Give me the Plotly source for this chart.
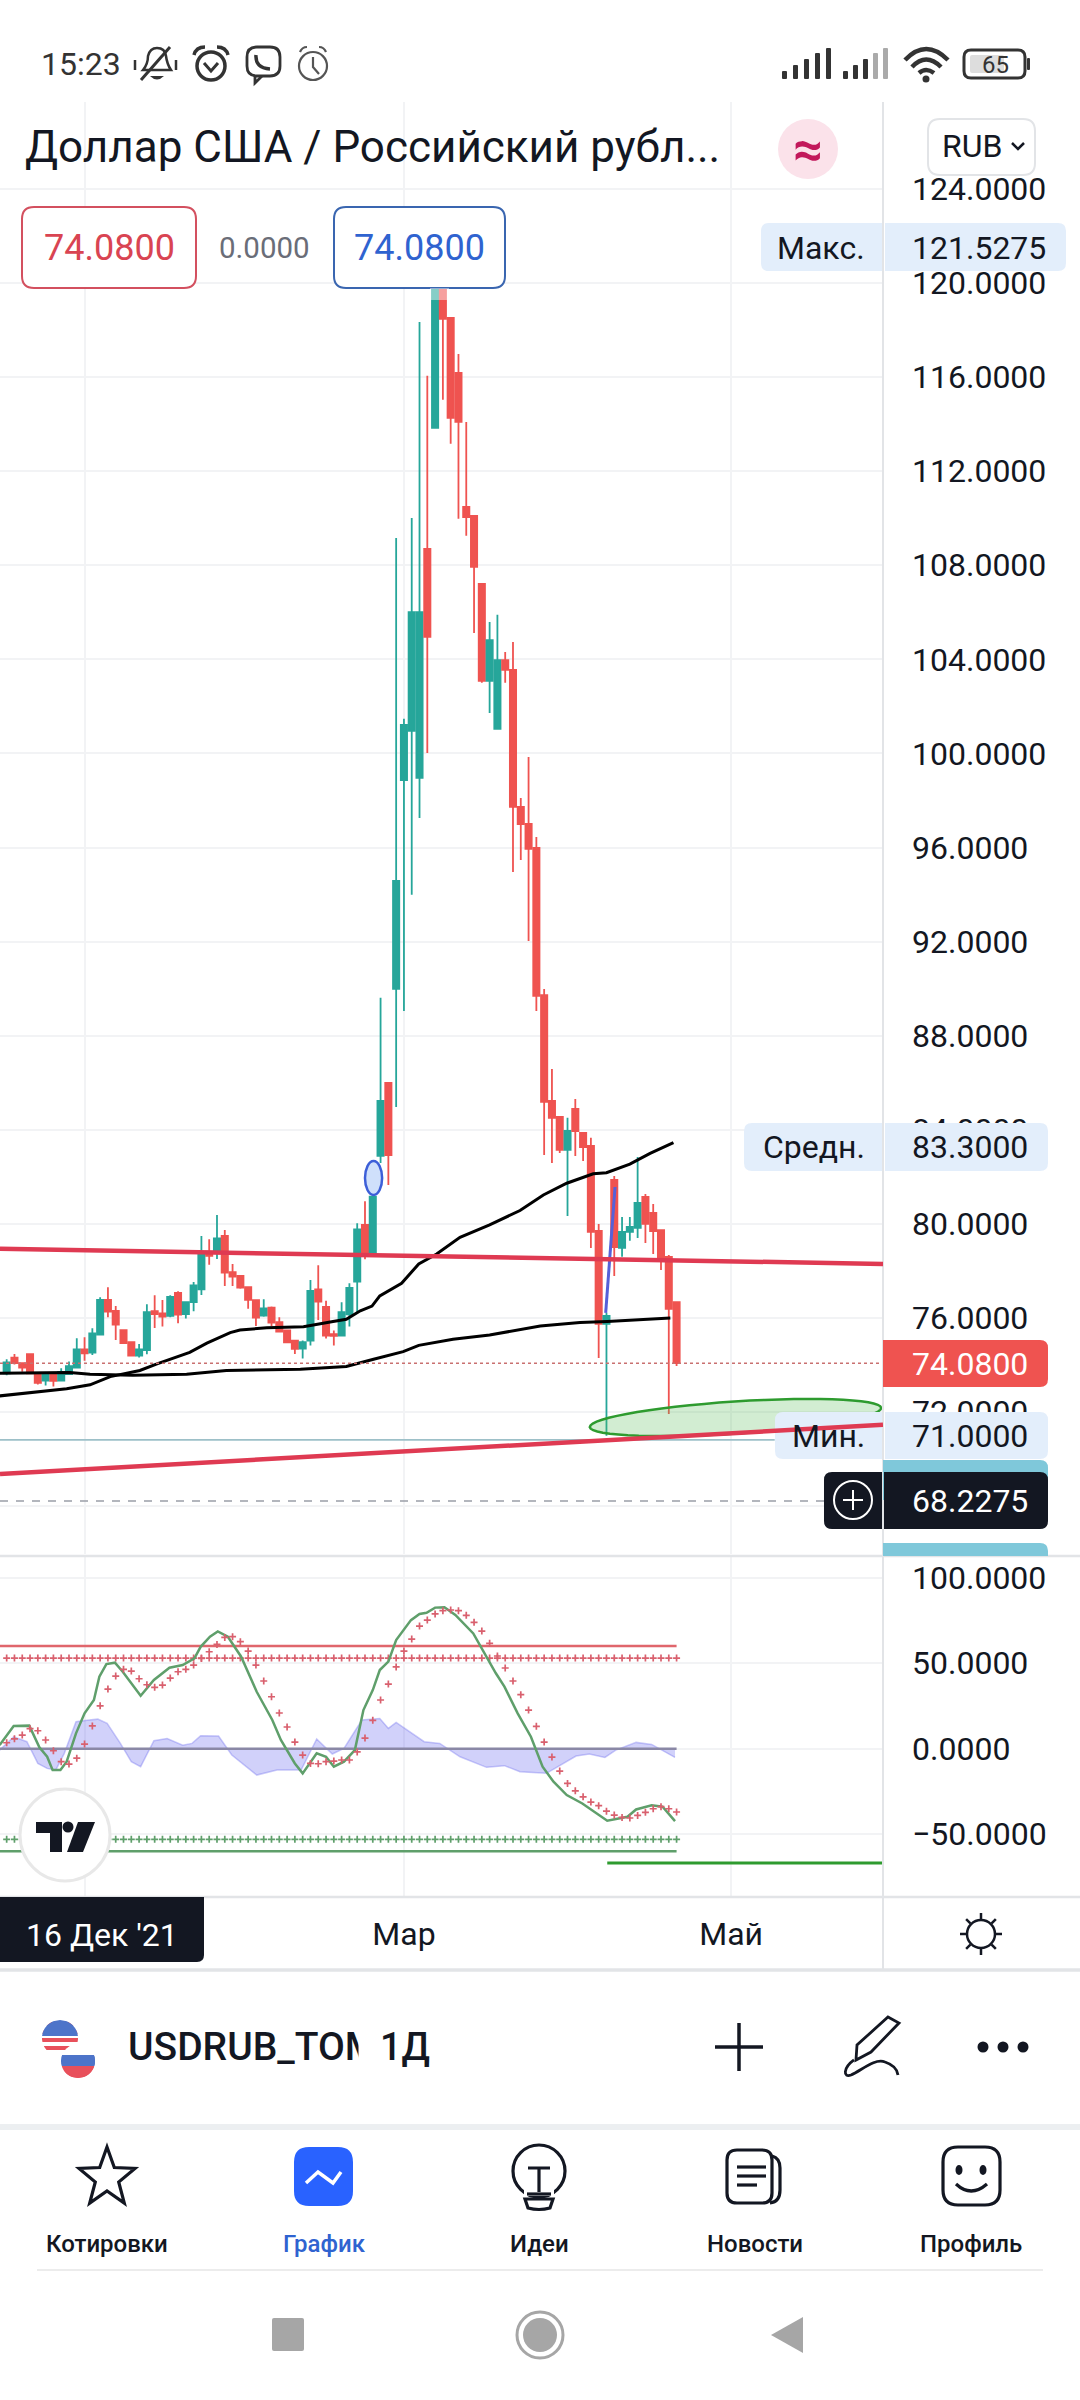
import math
import re
import plotly.graph_objects as go

# ---------- USD/RUB daily candles ----------
OPEN = [73.65, 74.32, 74.08, 74.47, 73.62, 73.34, 73.61, 73.34, 73.62, 73.89, 74.67, 74.53, 75.30, 76.77, 76.30, 75.49,
        74.97, 74.40, 74.64, 76.29, 76.20, 76.09, 77.07, 76.17, 76.68, 77.22, 78.82, 78.89, 79.49, 77.95, 77.79, 77.31,
        76.76, 76.10, 76.44, 75.82, 75.47, 75.04, 74.70, 75.04, 77.22, 76.47, 75.31, 75.25, 76.16, 77.55, 79.96, 78.72,
        82.89, 85.99, 89.99, 98.87, 100.96, 98.96, 108.69, 113.84, 121.19, 118.51, 116.17, 110.48, 110.10, 107.21,
        103.08, 101.04, 103.97, 103.55, 97.73, 97.00, 95.98, 89.73, 85.23, 84.55, 83.15, 84.89, 83.87, 83.32, 79.70,
        75.75, 81.87, 78.98, 79.66, 79.83, 81.15, 80.47, 79.74, 78.60, 76.68]
CLOSE = [74.11, 74.08, 73.89, 73.65, 73.25, 73.61, 73.33, 73.71, 73.96, 74.67, 74.50, 75.35, 76.77, 76.27, 75.72, 74.93,
         74.40, 74.67, 76.25, 76.17, 76.06, 76.90, 76.15, 76.68, 77.39, 78.68, 78.64, 79.39, 77.93, 77.76, 77.29, 76.77,
         76.02, 76.41, 75.81, 75.42, 74.97, 74.69, 74.98, 77.15, 76.70, 75.25, 75.24, 76.25, 77.28, 79.77, 78.72, 81.16,
         85.23, 82.93, 94.58, 101.21, 106.01, 106.01, 104.95, 121.19, 118.47, 114.26, 114.09, 110.05, 107.93, 103.08,
         104.82, 103.97, 103.55, 97.73, 97.00, 95.94, 89.69, 85.19, 84.51, 83.15, 83.95, 83.95, 83.27, 79.66, 75.75,
         76.09, 79.02, 79.66, 79.87, 80.89, 80.00, 79.70, 78.55, 76.39, 74.08]
HIGH = [74.25, 74.47, 74.11, 74.47, 73.65, 73.65, 73.68, 73.87, 74.15, 75.14, 75.18, 75.57, 76.88, 77.31, 76.51, 75.52,
        74.97, 74.90, 76.59, 76.97, 76.77, 76.97, 77.14, 76.71, 77.53, 79.49, 79.35, 80.38, 79.74, 78.30, 77.79, 77.34,
        76.77, 76.80, 76.49, 76.03, 75.49, 75.07, 75.04, 77.62, 78.24, 76.74, 75.47, 76.67, 77.48, 80.03, 80.96, 81.16,
        89.61, 85.99, 109.16, 101.47, 110.01, 118.34, 116.05, 121.5275, 121.40, 118.51, 116.98, 114.09, 110.10, 107.21,
        105.59, 105.89, 104.31, 104.74, 98.11, 99.85, 96.45, 89.99, 86.59, 84.55, 84.51, 85.31, 83.87, 83.66, 80.00,
        76.22, 82.04, 80.30, 80.30, 82.85, 81.27, 80.85, 79.74, 78.68, 76.68]
LOW = [73.57, 74.03, 73.72, 73.62, 73.17, 73.13, 73.09, 73.30, 73.58, 73.87, 74.18, 74.43, 75.30, 76.03, 75.07, 74.90,
       74.40, 74.32, 74.46, 75.58, 75.64, 76.03, 75.78, 75.98, 76.29, 76.98, 78.27, 78.51, 77.36, 77.36, 77.25, 76.40,
       75.66, 76.06, 75.66, 75.38, 74.93, 74.47, 74.28, 74.83, 75.92, 75.13, 74.83, 75.25, 75.64, 76.20, 78.50, 78.67,
       82.59, 81.66, 84.97, 89.05, 93.99, 97.26, 100.02, 113.84, 115.03, 113.16, 109.97, 109.25, 105.12, 103.00,
       101.72, 101.04, 103.00, 94.96, 95.47, 92.03, 89.05, 82.93, 82.59, 83.02, 80.34, 82.89, 82.68, 78.98, 74.30,
       71.00, 77.79, 78.60, 79.28, 79.40, 79.19, 78.72, 78.04, 71.92, 73.96]
BAR_INDEX = list(range(len(CLOSE)))

# ---------- moving averages on the price pane ----------
MA_FAST_X = [-0.9, 4.3, 7.7, 10.7, 13.3, 17.1, 19.3, 23.5, 25.7, 28.7, 29.95, 33.4, 38.1, 41.9, 43.6, 45.4, 46.9, 47.9,
             50.7, 52.9, 55.2, 58.2, 62.0, 65.9, 68.9, 71.9, 75.3, 77.0, 80.0, 82.6, 85.6]
MA_FAST_Y = [72.69, 72.87, 72.99, 73.16, 73.51, 73.77, 74.05, 74.54, 74.93, 75.38, 75.49, 75.59, 75.63, 75.85, 75.95,
             76.31, 76.51, 76.94, 77.48, 78.30, 78.72, 79.43, 79.96, 80.57, 81.23, 81.73, 82.13, 82.18, 82.54, 83.00, 83.46]
MA_SLOW_X = [-0.9, 8.1, 10.7, 16.2, 23.1, 28.2, 37.7, 43.6, 47.1, 50.9, 52.9, 57.3, 62.0, 68.5, 73.6, 77.1, 85.2]
MA_SLOW_Y = [73.65, 73.68, 73.61, 73.57, 73.61, 73.77, 73.82, 73.94, 74.25, 74.57, 74.84, 75.10, 75.28, 75.66, 75.81,
             75.85, 76.00]

# ---------- hand-drawn chart objects, in price/bar units ----------
LAST_PRICE = 74.08
CROSSHAIR_PRICE = 68.2275
SUPPORT_LEVEL = 70.82
AXIS_LEFT, AXIS_RIGHT = -0.856, 112.5
TREND_UPPER = [78.94, 78.30]
TREND_LOWER = [69.37, 71.46]
SKETCH_X = [76.9, 77.4, 78.1]
SKETCH_Y = [76.22, 78.34, 81.57]

# ---------- oscillator pane ----------
OSC_FAST_X = [-0.9, 0.9, 2.9, 4.2, 5.2, 5.9, 6.9, 7.7, 8.9, 10.0, 11.2, 11.9, 12.8, 13.9, 14.9, 17.2, 18.9, 20.9, 22.6,
              24.1, 24.9, 26.1, 27.1, 28.4, 30.1, 32.1, 34.1, 35.2, 37.0, 38.0, 39.8, 41.0, 42.0, 43.3, 44.7, 45.8, 47.0,
              47.9, 49.0, 50.0, 51.9, 53.0, 53.9, 55.0, 56.2, 57.6, 59.9, 62.8, 63.9, 65.6, 67.3, 68.8, 70.2, 71.9, 73.9,
              77.1, 79.7, 80.8, 82.8, 84.2, 85.8]
OSC_FAST_Y = [2.1, 13.3, 13.5, 0.8, -4.7, -12.5, -12.5, -7.6, 9.0, 20.7, 28.5, 42.1, 49.5, 50.3, 45.0, 31.0, 40.2, 47.4,
              48.9, 52.8, 59.6, 65.5, 68.6, 65.5, 53.8, 33.3, 16.8, 5.1, -8.6, -14.4, -2.7, -4.7, -10.5, -7.6, -0.8, 22.6,
              34.3, 46.0, 50.9, 63.5, 75.2, 78.8, 79.5, 82.5, 82.7, 78.2, 67.4, 44.1, 36.3, 20.7, 7.0, -10.5, -19.3, -27.1,
              -32.0, -42.1, -39.8, -35.5, -33.1, -33.9, -42.3]
OSC_SLOW = [3.5, 5.8, 8.0, 11.7, 10.5, 5.1, -1.2, -7.6, -9.0, -5.5, 2.7, 13.3, 25.1, 34.9, 42.5, 46.4, 45.4, 40.9, 37.4,
            35.9, 37.2, 41.3, 45.0, 46.4, 48.9, 52.8, 56.7, 61.0, 65.1, 65.5, 62.6, 57.1, 48.9, 39.6, 30.4, 20.9, 12.7,
            3.9, -3.7, -8.6, -8.8, -7.6, -7.2, -6.6, -6.6, -1.9, 6.2, 16.6, 28.5, 37.8, 47.8, 57.1, 64.1, 71.7, 75.2,
            78.8, 80.7, 81.1, 80.7, 78.0, 73.9, 68.8, 61.6, 54.2, 47.2, 39.6, 31.6, 22.6, 13.1, 3.9, -4.9, -13.1, -20.3,
            -24.6, -28.1, -31.2, -33.3, -36.5, -38.8, -40.2, -40.5, -39.0, -37.2, -35.1, -33.9, -35.1, -37.0]
OSC_DIFF_X = [-0.9, 0.9, 2.6, 4.0, 5.2, 6.3, 7.4, 8.9, 10.6, 11.7, 12.9, 14.6, 16.0, 17.2, 18.9, 20.6, 22.6, 23.8, 24.9,
              27.2, 28.9, 32.1, 34.7, 37.8, 39.8, 41.8, 43.3, 45.6, 47.9, 49.0, 50.0, 53.6, 55.6, 58.2, 61.6, 63.9, 65.9,
              69.3, 73.1, 74.8, 76.8, 78.2, 80.8, 82.8, 85.8]
OSC_DIFF_Y = [-0.8, 7.0, 4.1, -8.6, -11.5, -12.5, -2.7, 15.8, 16.8, 17.3, 14.8, 3.1, -7.6, -10.5, 4.7, 6.0, 2.1, 3.1, 7.6,
              7.4, -3.7, -15.4, -12.5, -12.5, 5.7, -3.1, 0.2, 16.8, 17.7, 11.9, 15.4, 4.1, 3.1, -4.7, -10.9, -9.9, -13.5,
              -14.4, -4.3, -3.1, -5.1, -0.8, 3.7, 2.5, -5.1]
LEVEL_OB_LINE, LEVEL_OB_DOTS = 60, 53
LEVEL_OS_DOTS, LEVEL_OS_LINE = -53, -60
LEVEL_SKETCH = -66.8
LEVEL_SKETCH_START = 77.1

# ---------- tick labels and captions ----------
PRICE_TICKS = [68, 72, 76, 80, 84, 88, 92, 96, 100, 104, 108, 112, 116, 120, 124]
OSC_TICKS = [100, 50, 0, -50]
TIME_TICKS = [10, 51, 93]
TIME_LABELS = ["", "Мар", "Май"]
TITLE = "Доллар США / Российский рубл..."
NAV_LABELS = ["Котировки", "График", "Идеи", "Новости", "Профиль"]

FONT = "Roboto"
INK = "#131722"
UP, DOWN = "#26a69a", "#ef5350"
GRID = "#f2f3f5"
EDGE = "#e2e4e7"
PANEL = "#e3eefb"
W, H = 1080, 2400
RIGHT_EDGE = 883


# pixel helpers for the surrounding app furniture
def X(x):
    return x / W


def Y(y):
    return 1 - y / H


def d(spec):
    """Turn a pixel-space path (M/L/Q/C/Z) into paper coordinates."""
    tokens = re.findall(r"[MLQCZ]|-?\d+\.?\d*", spec)
    out, is_x = [], True
    for tok in tokens:
        if tok.isalpha():
            out.append(tok)
            is_x = True
        else:
            out.append(f"{X(float(tok)):.5f}" if is_x else f"{Y(float(tok)):.5f}")
            is_x = not is_x
    return " ".join(out)


shapes = []
notes = []


def path(spec, fill=None, line=None, width=0):
    shapes.append(dict(type="path", xref="paper", yref="paper", path=d(spec), layer="above",
                       fillcolor=fill or "rgba(0,0,0,0)",
                       line=dict(color=line or "rgba(0,0,0,0)", width=width)))


def rrect(x0, y0, x1, y1, r=8, fill=None, line=None, width=0, corners="tl tr br bl"):
    c = corners.split()
    rt = lambda k: r if k in c else 0
    s = (f"M {x0 + rt('tl')} {y0} L {x1 - rt('tr')} {y0} Q {x1} {y0} {x1} {y0 + rt('tr')} "
         f"L {x1} {y1 - rt('br')} Q {x1} {y1} {x1 - rt('br')} {y1} "
         f"L {x0 + rt('bl')} {y1} Q {x0} {y1} {x0} {y1 - rt('bl')} L {x0} {y0 + rt('tl')} Q {x0} {y0} {x0 + rt('tl')} {y0} Z")
    path(s, fill, line, width)


def circle(cx, cy, rx, ry=None, fill=None, line=None, width=0):
    ry = rx if ry is None else ry
    shapes.append(dict(type="circle", xref="paper", yref="paper", layer="above",
                       x0=X(cx - rx), x1=X(cx + rx), y0=Y(cy + ry), y1=Y(cy - ry),
                       fillcolor=fill or "rgba(0,0,0,0)",
                       line=dict(color=line or "rgba(0,0,0,0)", width=width)))


def seg(x0, y0, x1, y1, color, width):
    path(f"M {x0} {y0} L {x1} {y1}", None, color, width)


def text(x, y, s, size=32, color=INK, anchor="left", weight=400):
    notes.append(dict(xref="paper", yref="paper", x=X(x), y=Y(y), text=s, showarrow=False,
                      xanchor=anchor, yanchor="middle", borderpad=0, borderwidth=0,
                      font=dict(family=FONT, size=size, color=color, weight=weight)))


def data_shape(**kw):
    shapes.append(dict(xref="x", yref="y", layer="above", **kw))


fig = go.Figure()

# ---------- price pane ----------
fig.add_trace(go.Candlestick(
    x=BAR_INDEX, open=OPEN, high=HIGH, low=LOW, close=CLOSE, xaxis="x", yaxis="y",
    increasing=dict(line=dict(color=UP, width=1.8), fillcolor=UP),
    decreasing=dict(line=dict(color=DOWN, width=1.8), fillcolor=DOWN),
    whiskerwidth=0, hoverinfo="skip"))
fig.add_trace(go.Scatter(x=MA_FAST_X, y=MA_FAST_Y, mode="lines", xaxis="x", yaxis="y",
                         line=dict(color="#000000", width=3), hoverinfo="skip"))
fig.add_trace(go.Scatter(x=MA_SLOW_X, y=MA_SLOW_Y, mode="lines", xaxis="x", yaxis="y",
                         line=dict(color="#000000", width=3), hoverinfo="skip"))
fig.add_trace(go.Scatter(x=SKETCH_X, y=SKETCH_Y, mode="lines", xaxis="x", yaxis="y",
                         line=dict(color="#5660d8", width=3), hoverinfo="skip"))

# ---------- oscillator pane ----------
fig.add_trace(go.Scatter(x=OSC_DIFF_X, y=OSC_DIFF_Y, mode="lines", xaxis="x", yaxis="y2", fill="tozeroy",
                         fillcolor="rgba(104,104,238,0.30)", line=dict(color="rgba(104,104,238,0.35)", width=1.5),
                         hoverinfo="skip"))
n = len(BAR_INDEX)
for level, color in ((LEVEL_OB_LINE, "#e0666c"), (0, "#8a88a6"), (LEVEL_OS_LINE, "#5f9f6b")):
    fig.add_trace(go.Scatter(x=[BAR_INDEX[0] - 1, BAR_INDEX[-1]], y=[level, level], mode="lines", xaxis="x", yaxis="y2",
                             line=dict(color=color, width=2.5), hoverinfo="skip"))
for level, color in ((LEVEL_OB_DOTS, "#d9606e"), (LEVEL_OS_DOTS, "#5f9f6b")):
    fig.add_trace(go.Scatter(x=BAR_INDEX, y=[level] * n, mode="markers", xaxis="x", yaxis="y2",
                             marker=dict(symbol="cross-thin", size=5, line=dict(color=color, width=1.7)),
                             hoverinfo="skip"))
fig.add_trace(go.Scatter(x=OSC_FAST_X, y=OSC_FAST_Y, mode="lines", xaxis="x", yaxis="y2",
                         line=dict(color="#5f9f6b", width=2.5), hoverinfo="skip"))
fig.add_trace(go.Scatter(x=BAR_INDEX, y=OSC_SLOW, mode="markers", xaxis="x", yaxis="y2",
                         marker=dict(symbol="cross-thin", size=5, line=dict(color="#d9606e", width=1.7)),
                         hoverinfo="skip"))
fig.add_trace(go.Scatter(x=[LEVEL_SKETCH_START, AXIS_RIGHT], y=[LEVEL_SKETCH, LEVEL_SKETCH], mode="lines", xaxis="x",
                         yaxis="y2", line=dict(color="#2e9b2f", width=3), hoverinfo="skip"))

# ---------- chart objects on the price pane ----------
data_shape(type="line", x0=AXIS_LEFT, x1=AXIS_RIGHT, y0=LAST_PRICE, y1=LAST_PRICE,
           line=dict(color="#c97070", width=1.5, dash="dot"))
data_shape(type="line", x0=AXIS_LEFT, x1=98.6, y0=SUPPORT_LEVEL, y1=SUPPORT_LEVEL,
           line=dict(color="#9dc0c8", width=1.8))
data_shape(type="line", x0=AXIS_LEFT, x1=AXIS_RIGHT, y0=CROSSHAIR_PRICE, y1=CROSSHAIR_PRICE,
           line=dict(color="#9a9ea8", width=1.5, dash="8px,8px"))
data_shape(type="circle", x0=46.0, x1=48.2, y0=81.23, y1=82.67, fillcolor="#cfe0fb",
           line=dict(color="#3d5fd8", width=2.5))

# green ellipse marking the support zone
ecx, ecy, ea, eb, eang = 735.5, 1417.5, 146, 16, math.atan2(-19, 289)
pts = []
for k in range(60):
    t = 2 * math.pi * k / 60
    px = ecx + ea * math.cos(t) * math.cos(eang) - eb * math.sin(t) * math.sin(eang)
    py = ecy + ea * math.cos(t) * math.sin(eang) + eb * math.sin(t) * math.cos(eang)
    pts.append(f"{'M' if k == 0 else 'L'} {px:.1f} {py:.1f}")
path(" ".join(pts) + " Z", "rgba(90,190,90,0.27)", "#2e9b2f", 2.5)

# pane frame
seg(RIGHT_EDGE, 102, RIGHT_EDGE, 1970, EDGE, 2)
seg(0, 1556, W, 1556, EDGE, 2.5)
seg(0, 1897, W, 1897, EDGE, 2.5)
seg(0, 1970, W, 1970, EDGE, 3.5)

# legend boxes at the top of the pane
rrect(22, 207, 196, 288, 12, "#ffffff", "#d3505f", 2)
rrect(334, 207, 505, 288, 12, "#ffffff", "#3a66b0", 2)
rrect(430, 288, 449, 300, 0, "rgba(255,255,255,0.45)")
text(109, 248, "74.0800", 36, "#d94452", "center")
text(264, 248, "0.0000", 29.5, "#6a6d78", "center")
text(419.5, 248, "74.0800", 36, "#2f63d0", "center")

# title row
text(25, 147, TITLE, 44)
circle(808, 149, 30, fill="#fbe2ea")
text(808, 149, "≈", 52, "#c2185b", "center", 700)
rrect(928, 119, 1035, 175, 12, "#ffffff", EDGE, 2)
text(942, 146, "RUB", 32)
path("M 1012 143 L 1018 149 L 1024 143", None, INK, 2.5)

# price-scale badges
for y0, y1, x0, x1 in ((223, 271, 761, 1066), (1123, 1171, 744, 1048), (1412, 1459, 775, 1048)):
    rrect(x0, y0, RIGHT_EDGE - 1, y1, 8, PANEL, corners="tl bl")
    rrect(RIGHT_EDGE + 2, y0, x1, y1, 8, PANEL, corners="tr br")
rrect(RIGHT_EDGE, 1340, 1048, 1387, 8, DOWN, corners="tr br")
rrect(RIGHT_EDGE, 1460, 1048, 1500, 8, "#7fc8da", corners="tr")
rrect(RIGHT_EDGE, 1543, 1048, 1556, 8, "#7fc8da", corners="tr")
rrect(824, 1472, RIGHT_EDGE - 1, 1529, 8, INK, corners="tl bl")
rrect(RIGHT_EDGE + 1, 1472, 1048, 1529, 8, INK, corners="tr br")
circle(853, 1500, 19, line="#ffffff", width=2)
seg(843, 1500, 863, 1500, "#ffffff", 2)
seg(853, 1490, 853, 1510, "#ffffff", 2)

# trend lines sit on top of the badges
for vals in (TREND_UPPER, TREND_LOWER):
    data_shape(type="line", x0=AXIS_LEFT, x1=AXIS_RIGHT, y0=vals[0], y1=vals[1],
               line=dict(color="#df3a52", width=4.5))

for y, label, value in ((248, "Макс.", "121.5275"), (1147, "Средн.", "83.3000"), (1436, "Мин.", "71.0000")):
    text(865, y, label, 32, INK, "right")
    text(912, y, value, 32)
text(912, 1364, "74.0800", 32, "#ffffff")
text(912, 1501, "68.2275", 32, "#ffffff")

# chart-provider badge
circle(65, 1835, 45, 46, "#ffffff", "#e8e8e8", 3)
path("M 36 1822 L 62 1822 L 62 1852 L 50 1852 L 50 1833 L 36 1833 Z", INK)
circle(68, 1827, 5.5, fill=INK)
path("M 78 1822 L 95 1822 L 83 1852 L 67 1852 Z", INK)

# crosshair date on the time scale
rrect(0, 1897, 204, 1962, 7, INK, corners="br")
text(102, 1935, "16 Дек '21", 32, "#ffffff", "center")

# appearance toggle
circle(981, 1934, 14, line=INK, width=2.5)
for k in range(8):
    a = math.pi * k / 4
    seg(981 + 15 * math.cos(a), 1934 + 15 * math.sin(a), 981 + 21 * math.cos(a), 1934 + 21 * math.sin(a), INK, 2.5)

# symbol bar
def band(cx, cy, r, y0, y1, color):
    ps = []
    for k in range(13):
        yy = y0 + (y1 - y0) * k / 12
        ps.append((cx - math.sqrt(max(r * r - (yy - cy) ** 2, 0)), yy))
    ps += [(2 * cx - a, b) for a, b in reversed(ps)]
    path("M " + " L ".join(f"{a:.1f} {b:.1f}" for a, b in ps) + " Z", color)


for y0 in (2022, 2030, 2038, 2046):
    band(60, 2038, 18, y0, y0 + 4, "#e8505b")
band(60, 2038, 18, 2020, 2036, "#4d74c9")
band(78, 2061, 17, 2044, 2055, "#ffffff")
band(78, 2061, 17, 2055, 2066, "#4d74c9")
band(78, 2061, 17, 2066, 2078, "#e8505b")
path("M 42 2050 Q 60 2062 78 2042 L 78 2070 L 42 2070 Z", "#ffffff")
band(78, 2061, 17, 2055, 2066, "#4d74c9")
band(78, 2061, 17, 2066, 2078, "#e8505b")

text(128, 2047, "USDRUB_TOM", 39, INK, "left", 500)
notes.append(dict(xref="paper", yref="paper", x=X(358), y=Y(2047), text="\u00a0", showarrow=False, xanchor="left",
                  yanchor="middle", width=22, height=50, bgcolor="#ffffff", borderpad=0))
text(380, 2047, "1Д", 38, INK, "left", 500)
seg(715, 2047, 763, 2047, INK, 3.5)
seg(739, 2023, 739, 2071, INK, 3.5)
path("M 888 2017 L 899 2023 L 871 2052 L 856 2060 L 857 2045 Z", None, INK, 2.8)
path("M 854 2060 C 843 2068 843 2078 851 2075 C 862 2070 875 2058 885 2062 Q 897 2066 898 2075", None, INK, 2.8)
for cx in (983, 1003, 1023):
    circle(cx, 2047, 5.5, fill=INK)
path("M 0 2127 L 1080 2127", None, "#eceff1", 6)

# bottom navigation
star = []
for k in range(10):
    r = 31 if k % 2 == 0 else 13
    a = -math.pi / 2 + math.pi * k / 5
    star.append(f"{'M' if k == 0 else 'L'} {107 + r * 0.95 * math.cos(a):.1f} {2178 + r * math.sin(a):.1f}")
path(" ".join(star) + " Z", None, INK, 3.2)
rrect(294, 2147, 353, 2206, 15, "#2962ff")
path("M 306 2183 L 318 2172 L 333 2183 L 341 2172", None, "#ffffff", 3.5)
circle(539, 2171, 26, line=INK, width=3.2)
path("M 524 2193 L 554 2193", None, "#ffffff", 6)
path("M 527 2194 L 551 2194", None, INK, 3.2)
path("M 528 2168 L 550 2168 M 539 2168 L 539 2192", None, INK, 3.2)
path("M 525 2199 L 553 2199 L 550 2208 Q 539 2211 528 2208 Z", None, INK, 3.2)
rrect(727, 2150, 772, 2203, 10, None, INK, 3.2)
path("M 772 2156 Q 780 2158 780 2168 L 780 2190 Q 780 2202 770 2203", None, INK, 3.2)
for y0, x1 in ((2167, 766), (2176, 766), (2185, 757)):
    seg(737, y0, x1, y0, INK, 3.2)
rrect(943, 2147, 1000, 2205, 15, None, INK, 3.2)
circle(959, 2170, 3.5, 5, fill=INK)
circle(983, 2170, 3.5, 5, fill=INK)
path("M 956 2184 Q 971 2198 987 2184", None, INK, 3.2)
for cx, label in zip((107, 324, 539, 755, 971), NAV_LABELS):
    text(cx, 2244, label, 24, "#2f63d0" if label == "График" else INK, "center", 500)
seg(37, 2270, 1043, 2270, "#ececec", 2)

# device navigation keys
rrect(272, 2318, 304, 2351, 2, "#a6a6a6")
circle(540, 2335, 23, line="#a6a6a6", width=3)
circle(540, 2335, 17, fill="#a6a6a6")
path("M 771 2335 L 803 2317 L 803 2353 Z", "#a6a6a6")

# status bar
DARK = "#333333"
text(41, 64, "15:23", 32, DARK)
path("M 143 70 Q 148 64 148 56 Q 150 48 157 48 Q 165 48 166 56 Q 167 64 171 70 L 143 70 Z", None, DARK, 2.5)
path("M 150 76 Q 157 83 164 76 Z", DARK)
seg(170, 47, 141, 80, DARK, 3)
seg(135, 60, 135, 70, DARK, 2.5)
seg(176, 60, 176, 70, DARK, 2.5)
circle(211, 66, 14, line=DARK, width=3.5)
path("M 194 55 Q 196 47 205 47", None, DARK, 3.5)
path("M 217 47 Q 226 47 228 55", None, DARK, 3.5)
path("M 204 63 L 211 71 L 218 63", None, DARK, 3)
rrect(247, 47, 280, 76, 10, None, DARK, 2.8)
path("M 255 76 L 255 83 L 262 76", None, DARK, 2.8)
path("M 256 55 Q 255 68 270 69", None, DARK, 3.5)
circle(313, 66, 14, line="#555555", width=2.2)
path("M 300 52 Q 302 47 307 47", None, "#555555", 2.2)
path("M 319 47 Q 324 47 326 52", None, "#555555", 2.2)
path("M 313 57 L 313 67 L 319 74", None, "#555555", 2.2)
for k, h in enumerate((8, 14, 20, 26, 31)):
    rrect(782 + 11 * k, 79 - h, 787 + 11 * k, 79, 1, DARK)
    rrect(843 + 10 * k, 79 - h, 848 + 10 * k, 79, 1, DARK if k < 3 else "#aaaaaa")
path("M 905 60 Q 926 38 948 60", None, DARK, 4.5)
path("M 912 67 Q 926 52 941 67", None, DARK, 4.5)
path("M 919 73 Q 926 67 934 73", None, DARK, 4.5)
circle(926, 79, 3.5, fill=DARK)
rrect(970, 55, 1004, 73, 2, "#dddddd")
rrect(964, 50, 1025, 78, 7, None, DARK, 3)
rrect(1027, 58, 1030, 70, 1, DARK)
text(995, 65, "65", 24, DARK, "center")

axis_font = dict(family=FONT, size=32, color=INK)
fig.update_layout(
    width=W, height=H, autosize=False, margin=dict(l=0, r=0, t=0, b=0), showlegend=False,
    paper_bgcolor="#ffffff", plot_bgcolor="#ffffff", boxgap=0.2, boxgroupgap=0, hovermode=False,
    shapes=shapes, annotations=notes,
    xaxis=dict(domain=[0, RIGHT_EDGE / W], range=[AXIS_LEFT, AXIS_RIGHT], anchor="y2", rangeslider=dict(visible=False),
               tickmode="array", tickvals=TIME_TICKS, ticktext=TIME_LABELS, ticks="", showline=False,
               showgrid=True, gridcolor=GRID, gridwidth=2, zeroline=False, tickfont=axis_font, ticklabelstandoff=15),
    yaxis=dict(domain=[Y(1554), Y(102)], range=[65.97, 127.69], anchor="x", side="right", tickmode="array",
               tickvals=PRICE_TICKS, tickformat=".4f", ticks="", showline=False, showgrid=True, gridcolor=GRID,
               gridwidth=2, zeroline=False, tickfont=axis_font, ticklabelstandoff=28),
    yaxis2=dict(domain=[Y(1897), Y(1557)], range=[-86.7, 112.1], anchor="x", side="right", tickmode="array",
                tickvals=OSC_TICKS, tickformat=".4f", ticks="", showline=False, showgrid=True, gridcolor=GRID,
                gridwidth=2, zeroline=False, tickfont=axis_font, ticklabelstandoff=28),
)

fig.write_html("out.html", config=dict(displayModeBar=False))
